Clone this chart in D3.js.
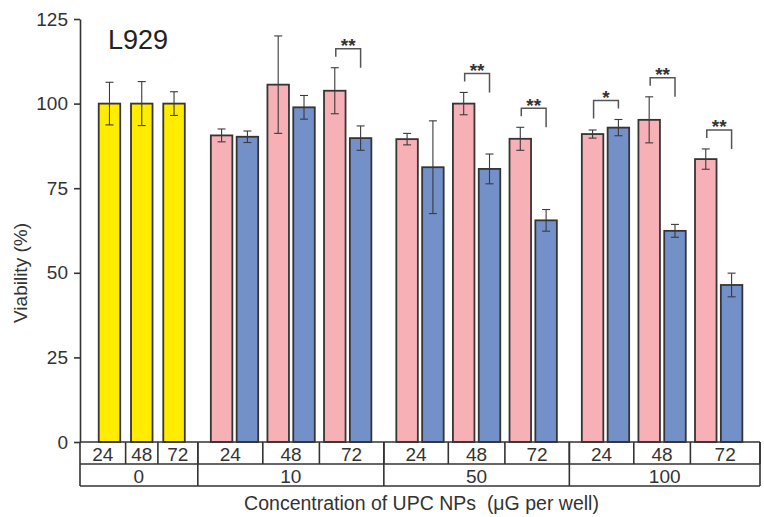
<!DOCTYPE html>
<html>
<head>
<meta charset="utf-8">
<script src="https://cdn.jsdelivr.net/npm/d3@7"></script>
<style>
  html, body { margin: 0; padding: 0; background: #fff; }
  svg { display: block; font-family: "Liberation Sans", Arial, sans-serif; }
</style>
</head>
<body>
<svg id="chart" width="764" height="517"></svg>
<script>
// ---------------- DATA ----------------
const concentrations = ["0", "10", "50", "100"];
const times = ["24", "48", "72"];
const treated = ["10", "50", "100"];

// Control (0 µg) viability and error
const controlValues = [100, 100, 100];
const controlErrors = [6.3, 6.5, 3.5];

// Pink series (per treated concentration: 24, 48, 72 h)
const pinkValues = [[90.6, 105.6, 103.8], [89.5, 100.0, 89.6], [91.0, 95.2, 83.6]];
const pinkErrors = [[1.9, 14.4, 6.8], [1.7, 3.3, 3.4], [1.2, 6.8, 3.0]];

// Blue series
const blueValues = [[90.2, 98.9, 89.8], [81.2, 80.7, 65.5], [92.9, 62.4, 46.4]];
const blueErrors = [[1.7, 3.5, 3.6], [13.7, 4.4, 3.2], [2.4, 1.9, 3.5]];

// Significance marks
const sigConc = ["10", "50", "50", "100", "100", "100"];
const sigTime = ["72", "48", "72", "24", "48", "72"];
const sigLabel = ["**", "**", "**", "*", "**", "**"];

const yTicks = [0, 25, 50, 75, 100, 125];
const cellLabel = "L929";
const yTitle = "Viability (%)";
const xTitle = "Concentration of UPC NPs\u00a0\u00a0(\u03bcG per well)";

// ---------------- STYLE / LAYOUT ----------------
const colors = { ctrl: "#FFEC00", pink: "#F7B0B6", blue: "#7490C9" };
const ink = "#333";
const layout = { ctrlStart: 1.37, ctrlStep: 1.5, pairStart: 7.18, pairStep: 2.63, groupGap: 0.73, pairHalf: 0.6, barW: 1, total: 31.6 };

const svg = d3.select("#chart");
const y = d3.scaleLinear().domain([0, 125]).range([442, 19]);
const x = d3.scaleLinear().domain([0, layout.total]).range([80, 760]);

// Build bar list
const bars = [];
times.forEach((t, j) => {
  bars.push({ conc: "0", time: t, series: "ctrl", value: controlValues[j], err: controlErrors[j],
              c: layout.ctrlStart + j * layout.ctrlStep });
});
treated.forEach((conc, g) => {
  times.forEach((t, k) => {
    const center = layout.pairStart + layout.pairStep * (3 * g + k) + layout.groupGap * g;
    bars.push({ conc, time: t, series: "pink", value: pinkValues[g][k], err: pinkErrors[g][k], c: center - layout.pairHalf });
    bars.push({ conc, time: t, series: "blue", value: blueValues[g][k], err: blueErrors[g][k], c: center + layout.pairHalf });
  });
});

// Bars
svg.append("g").selectAll("rect").data(bars).join("rect")
  .attr("x", d => x(d.c - layout.barW / 2))
  .attr("width", d => x(d.c + layout.barW / 2) - x(d.c - layout.barW / 2))
  .attr("y", d => y(d.value))
  .attr("height", d => y(0) - y(d.value))
  .attr("fill", d => colors[d.series])
  .attr("stroke", "#353535")
  .attr("stroke-width", 1.8);

// Error bars
const eb = svg.append("g").attr("stroke", "#3a3a3a").attr("stroke-width", 1.1);
bars.forEach(d => {
  const cx = x(d.c);
  eb.append("line").attr("x1", cx).attr("x2", cx).attr("y1", y(d.value + d.err)).attr("y2", y(d.value - d.err));
  [d.value + d.err, d.value - d.err].forEach(v => {
    eb.append("line").attr("x1", cx - 4).attr("x2", cx + 4).attr("y1", y(v)).attr("y2", y(v));
  });
});

// Significance brackets
const sg = svg.append("g");
sigConc.forEach((conc, i) => {
  const p = bars.find(b => b.conc === conc && b.time === sigTime[i] && b.series === "pink");
  const b = bars.find(bb => bb.conc === conc && bb.time === sigTime[i] && bb.series === "blue");
  const pTop = y(p.value + p.err), bTop = y(b.value + b.err);
  const top = Math.min(pTop, bTop) - 19;
  const xl = x(p.c) + 1, xr = x(b.c);
  const leftLen = pTop <= bTop ? 8 : 18;
  const rightLen = pTop <= bTop ? 19 : 8;
  sg.append("path")
    .attr("d", `M${xl},${top + leftLen}V${top}H${xr}V${top + rightLen}`)
    .attr("fill", "none").attr("stroke", "#555").attr("stroke-width", 1.5);
  sg.append("text").attr("x", (xl + xr) / 2).attr("y", top + 3.5)
    .attr("text-anchor", "middle").attr("font-size", 19).attr("font-weight", "bold").attr("fill", ink)
    .text(sigLabel[i]);
});

// Y axis
const yAxis = svg.append("g").attr("transform", `translate(${x(0)},0)`)
  .call(d3.axisLeft(y).tickValues(yTicks).tickSize(6).tickSizeOuter(0).tickPadding(6));
yAxis.select(".domain").attr("stroke", ink).attr("stroke-width", 1.6);
yAxis.selectAll(".tick line").attr("stroke", ink).attr("stroke-width", 1.6);
yAxis.selectAll(".tick text").attr("font-size", 19).attr("fill", ink)
  .attr("font-family", "'Liberation Sans', Arial, sans-serif");

// Table under the axis
const rowTop = y(0), rowMid = rowTop + 22, rowBot = rowMid + 22;
const cells = [];
concentrations.forEach(conc => {
  times.forEach(t => {
    const bs = bars.filter(b => b.conc === conc && b.time === t);
    cells.push({ conc, time: t, l: d3.min(bs, b => b.c - layout.barW / 2), r: d3.max(bs, b => b.c + layout.barW / 2) });
  });
});
cells.forEach((c, i) => {
  c.x0 = i === 0 ? 0 : (cells[i - 1].r + c.l) / 2;
  c.x1 = i === cells.length - 1 ? layout.total : (c.r + cells[i + 1].l) / 2;
});
const groupsCells = concentrations.map(conc => {
  const cs = cells.filter(c => c.conc === conc);
  return { conc, x0: cs[0].x0, x1: cs[cs.length - 1].x1 };
});

const tb = svg.append("g").attr("stroke", ink).attr("stroke-width", 1.6);
[rowTop, rowMid, rowBot].forEach(yy => {
  tb.append("line").attr("x1", x(0)).attr("x2", x(layout.total)).attr("y1", yy).attr("y2", yy);
});
cells.forEach(c => {
  tb.append("line").attr("x1", x(c.x1)).attr("x2", x(c.x1)).attr("y1", rowTop).attr("y2", rowMid);
});
tb.append("line").attr("x1", x(0)).attr("x2", x(0)).attr("y1", rowTop).attr("y2", rowBot);
groupsCells.forEach(gc => {
  tb.append("line").attr("x1", x(gc.x1)).attr("x2", x(gc.x1)).attr("y1", rowTop).attr("y2", rowBot);
});

svg.append("g").selectAll("text").data(cells).join("text")
  .attr("x", d => x((d.x0 + d.x1) / 2)).attr("y", rowMid - 3.5)
  .attr("text-anchor", "middle").attr("font-size", 19).attr("fill", ink)
  .text(d => d.time);
svg.append("g").selectAll("text").data(groupsCells).join("text")
  .attr("x", d => x((d.x0 + d.x1) / 2)).attr("y", rowBot - 3)
  .attr("text-anchor", "middle").attr("font-size", 19).attr("fill", ink)
  .text(d => d.conc);

// Titles
svg.append("text").attr("x", 108).attr("y", 49).attr("font-size", 27).attr("fill", "#222").text(cellLabel);
svg.append("text").attr("transform", "translate(27,273) rotate(-90)")
  .attr("text-anchor", "middle").attr("font-size", 19).attr("fill", ink).text(yTitle);
svg.append("text").attr("x", 421.5).attr("y", 510)
  .attr("text-anchor", "middle").attr("font-size", 19.5).attr("fill", ink).text(xTitle);
</script>
</body>
</html>
